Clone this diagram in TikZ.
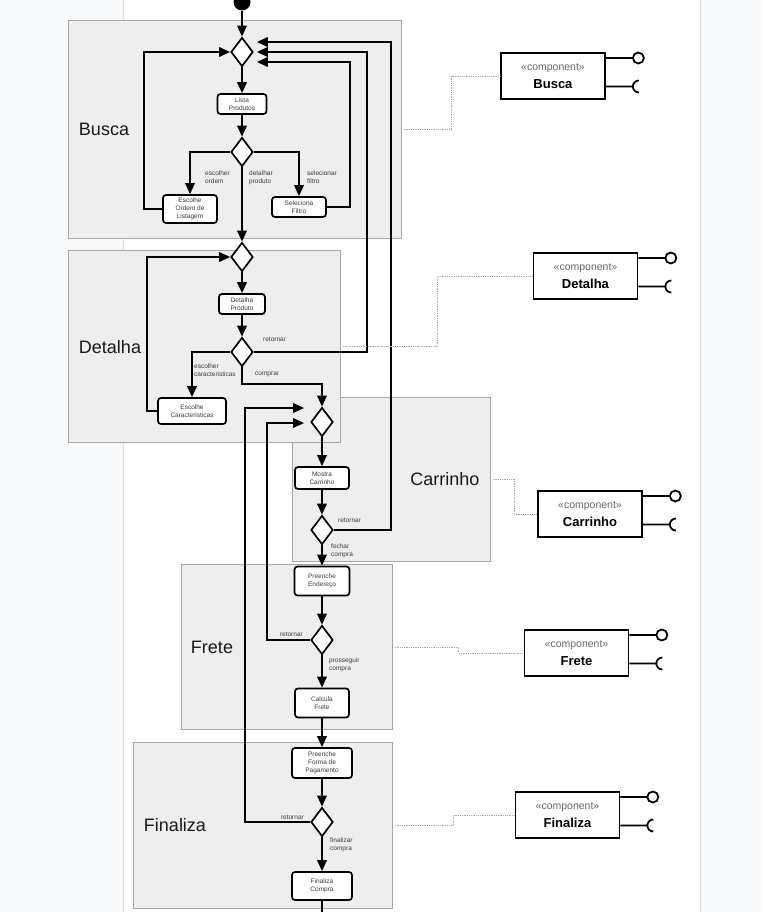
\documentclass[tikz,border=0pt]{standalone}
\usepackage{fontspec}
\setmainfont{Liberation Sans}
\usetikzlibrary{arrows.meta, positioning, calc, shapes.geometric}

\definecolor{pagebg}{HTML}{F8F9FA}
\definecolor{lanefill}{HTML}{EEEEEE}
\definecolor{laneline}{HTML}{A6A6A6}
\definecolor{labeltxt}{HTML}{3A3A3A}
\definecolor{stereo}{HTML}{66666E}
\definecolor{dotline}{HTML}{A8A8A8}

\begin{document}
\begin{tikzpicture}[
  x=1pt, y=-1pt,
  >={Triangle[length=11pt, width=9.5pt]},
  every node/.style={font=\fontsize{6.5}{7.8}\selectfont},
  %% ── Partition styles ────────────────────────────────────────────────────
  lane/.style={
    draw=laneline, fill=lanefill, line width=0.8pt,
    anchor=north west, inner sep=0pt
  },
  lanename/.style={font=\fontsize{18}{20}\selectfont, text=black!90},
  %% ── Activity styles ─────────────────────────────────────────────────────
  act/.style={
    draw, line width=1.7pt, rounded corners=3pt, fill=white,
    align=center, inner sep=1pt, text=labeltxt
  },
  dec/.style={
    draw, diamond, line width=1.7pt, fill=white,
    minimum width=22pt, minimum height=29pt, inner sep=0pt
  },
  startdot/.style={circle, fill=black, minimum size=17pt, inner sep=0pt},
  %% ── Arrow styles ────────────────────────────────────────────────────────
  arr/.style={->, line width=1.8pt},
  flow/.style={line width=1.8pt},
  lbl/.style={align=left, inner sep=0pt, text=labeltxt},
  %% ── Component styles ────────────────────────────────────────────────────
  comp/.style={
    draw, line width=1.7pt, fill=white,
    minimum width=104pt, minimum height=46pt,
    align=center, inner sep=0pt, font=\fontsize{13}{17}\selectfont
  },
  iface/.style={line width=1.8pt},
  dots/.style={densely dotted, draw=dotline, line width=0.8pt, shorten <=2pt},
]

\useasboundingbox (0,0) rectangle (763,912);

%% ═══════════════════════════════════════════════════════════════════════════
%% PAGE
%% ═══════════════════════════════════════════════════════════════════════════

\fill[pagebg] (0,0) rectangle (763,912);
\fill[white] (123,0) rectangle (700,912);
\draw[black!12] (123,0) -- (123,912);
\draw[black!15, line width=1.5pt] (700.5,0) -- (700.5,912);

%% ═══════════════════════════════════════════════════════════════════════════
%% PARTITIONS
%% ═══════════════════════════════════════════════════════════════════════════

\node[lane, minimum width=333pt, minimum height=218pt] (lBusca)    at (68,20)   {};
\node[lane, minimum width=198pt, minimum height=164pt] (lCarrinho) at (292,397) {};
\node[lane, minimum width=272pt, minimum height=192pt] (lDetalha)  at (68,250)  {};
\node[lane, minimum width=211pt, minimum height=165pt] (lFrete)    at (181,564) {};
\node[lane, minimum width=259pt, minimum height=166pt] (lFinaliza) at (133,742) {};

\node[lanename] (tBusca)    at (104,129) {Busca};
\node[lanename] (tDetalha)  at (110,347) {Detalha};
\node[lanename] (tCarrinho) at (445,479) {Carrinho};
\node[lanename] (tFrete)    at (212,647) {Frete};
\node[lanename] (tFinaliza) at (175,825) {Finaliza};

%% ═══════════════════════════════════════════════════════════════════════════
%% NODES
%% ═══════════════════════════════════════════════════════════════════════════

%% — Busca ───────────────────────────────────────────────────────────────────
\node[startdot] (S) at (242,2) {};
\node[dec] (D1) at (242,52) {};
\node[act, minimum width=49pt, minimum height=20pt] (LP) at (242,104) {Lista\\Produtos};
\node[dec] (D2) at (242,152) {};
\node[act, minimum width=54pt, minimum height=28pt] (EO) at (190,209) {Escolhe\\Ordem de\\Listagem};
\node[act, minimum width=54pt, minimum height=20pt] (SF) at (299,207) {Seleciona\\Filtro};

%% — Detalha ─────────────────────────────────────────────────────────────────
\node[dec] (D3) at (242,257) {};
\node[act, minimum width=46pt, minimum height=20pt] (DP) at (242,304) {Detalha\\Produto};
\node[dec] (D4) at (242,352) {};
\node[act, minimum width=68pt, minimum height=26pt] (EC) at (192,411) {Escolhe\\Caracteristicas};

%% — Carrinho ────────────────────────────────────────────────────────────────
\node[dec] (D5) at (322,422) {};
\node[act, minimum width=54pt, minimum height=22pt] (MC) at (322,478) {Mostra\\Carrinho};
\node[dec] (D6) at (322,530) {};

%% — Frete ───────────────────────────────────────────────────────────────────
\node[act, minimum width=55pt, minimum height=29pt] (PE) at (322,581) {Preenche\\Endereço};
\node[dec] (D7) at (322,640) {};
\node[act, minimum width=54pt, minimum height=29pt] (CF) at (322,703) {Calcula\\Frete};

%% — Finaliza ────────────────────────────────────────────────────────────────
\node[act, minimum width=60pt, minimum height=30pt] (PF) at (322,763) {Preenche\\Forma de\\Pagamento};
\node[dec] (D8) at (322,822) {};
\node[act, minimum width=60pt, minimum height=28pt] (FC) at (322,886) {Finaliza\\Compra};

%% ═══════════════════════════════════════════════════════════════════════════
%% MAIN FLOW
%% ═══════════════════════════════════════════════════════════════════════════

\draw[arr] (S) -- (D1.north);
\draw[arr] (D1) -- (LP);
\draw[arr] (LP) -- (D2);
\draw[arr] (D2.west) -| (EO.north);
\draw[arr] (D2.east) -| (SF.north);
\draw[arr] (D2.south) -- (D3.north);
\draw[arr] (EO.west) -- ++(-18,0) |- (D1.west);
\draw[arr] (SF.east) -- ++(23,0) |- ($(D1.east)+(3,10)$);

\draw[arr] (D3) -- (DP);
\draw[arr] (DP) -- (D4);
\draw[arr] (D4.west) -| (EC.north);
\draw[arr] (EC.west) -- ++(-10,0) |- (D3.west);
\draw[arr] (D4.east) -- ++(113,0) |- ($(D1.east)+(3,0)$);
\draw[arr] (D4.south) -- ++(0,17) -| (D5.north);

\draw[arr] (D5) -- (MC);
\draw[arr] (MC) -- (D6);
\draw[arr] (D6) -- (PE);
\draw[arr] (D6.east) -- ++(57,0) |- ($(D1.east)+(3,-10)$);

\draw[arr] (PE) -- (D7);
\draw[arr] (D7) -- (CF);
\draw[arr] (D7.west) -- ++(-43,0) |- ($(D5.west)+(-6,1)$);
\draw[arr] (CF) -- (PF);

\draw[arr] (PF) -- (D8);
\draw[arr] (D8) -- (FC);
\draw[arr] (D8.west) -- ++(-65,0) |- ($(D5.west)+(-6,-14)$);
\draw[flow] (FC.south) -- ++(0,20);

%% — Guard labels ────────────────────────────────────────────────────────────
\node[lbl, anchor=north west] (gOrdem)   at (205,171) {escolher\\ordem};
\node[lbl, anchor=north west] (gDetalhe) at (249,171) {detalhar\\produto};
\node[lbl, anchor=north west] (gFiltro)  at (307,171) {selecionar\\filtro};
\node[lbl, anchor=west]       (gRetD)    at (263,339) {retornar};
\node[lbl, anchor=north west] (gCarac)   at (194,364) {escolher\\caracteristicas};
\node[lbl, anchor=west]       (gCompra)  at (255,374) {comprar};
\node[lbl, anchor=west]       (gRetC)    at (338,520) {retornar};
\node[lbl, anchor=north west] (gFechar)  at (331,544) {fechar\\compra};
\node[lbl, anchor=east]       (gRetF)    at (303,634) {retornar};
\node[lbl, anchor=north west] (gSegue)   at (329,658) {prosseguir\\compra};
\node[lbl, anchor=east]       (gRetP)    at (304,817) {retornar};
\node[lbl, anchor=north west] (gFinal)   at (330,838) {finalizar\\compra};

%% ═══════════════════════════════════════════════════════════════════════════
%% COMPONENTS
%% ═══════════════════════════════════════════════════════════════════════════

\node[comp] (cBusca)    at (553,76)    {{\color{stereo}\fontsize{10.5}{17}\selectfont «component»}\\[1.5pt]\textbf{Busca}};
\node[comp] (cDetalha)  at (585.5,276) {{\color{stereo}\fontsize{10.5}{17}\selectfont «component»}\\[1.5pt]\textbf{Detalha}};
\node[comp] (cCarrinho) at (590,514)   {{\color{stereo}\fontsize{10.5}{17}\selectfont «component»}\\[1.5pt]\textbf{Carrinho}};
\node[comp] (cFrete)    at (576.5,653) {{\color{stereo}\fontsize{10.5}{17}\selectfont «component»}\\[1.5pt]\textbf{Frete}};
\node[comp] (cFinaliza) at (567.5,815) {{\color{stereo}\fontsize{10.5}{17}\selectfont «component»}\\[1.5pt]\textbf{Finaliza}};

\foreach \c in {cBusca, cDetalha, cCarrinho, cFrete, cFinaliza} {
  \draw[iface] ($(\c.east)+(0,-18)$) -- ++(27,0) ++(5.5,0) circle[radius=5.5];
  \draw[iface] ($(\c.east)+(0,10.5)$) -- ++(27,0) ++(6,6) arc[start angle=90, end angle=270, radius=6];
}

%% — Partition to component links ────────────────────────────────────────────
\draw[dots] (lBusca.east)    -- ++(50,0) |- (cBusca.west);
\draw[dots] (lDetalha.east)  -- ++(97,0) |- (cDetalha.west);
\draw[dots] (lCarrinho.east) -- ++(24,0) |- (cCarrinho.west);
\draw[dots] (lFrete.east)    -- ++(66,0) |- (cFrete.west);
\draw[dots] (lFinaliza.east) -- ++(61,0) |- (cFinaliza.west);

\end{tikzpicture}
\end{document}
